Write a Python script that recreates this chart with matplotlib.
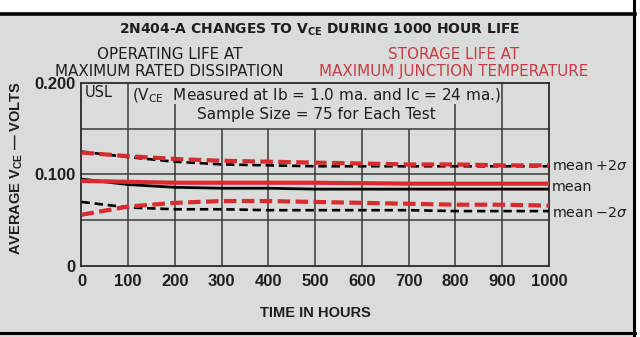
import matplotlib
matplotlib.use("Agg")
import matplotlib.pyplot as plt
from matplotlib.lines import Line2D

plt.rcParams['font.family'] = ['DejaVu Sans']
plt.rcParams['mathtext.fontset'] = 'custom'

# Hours at which the curves are read
hours = [0, 100, 200, 300, 400, 500, 600, 700, 800, 900, 1000]

# Operating life (black) curves, volts
op_upper = [0.125, 0.119, 0.114, 0.111, 0.110, 0.109, 0.109, 0.109, 0.109, 0.109, 0.109]
op_mean = [0.095, 0.089, 0.086, 0.085, 0.085, 0.084, 0.084, 0.084, 0.084, 0.084, 0.084]
op_lower = [0.070, 0.064, 0.062, 0.062, 0.061, 0.061, 0.061, 0.061, 0.060, 0.060, 0.060]

# Storage life (red) curves, volts
st_upper = [0.124, 0.120, 0.117, 0.115, 0.114, 0.113, 0.112, 0.111, 0.111, 0.110, 0.110]
st_mean = [0.093, 0.092, 0.091, 0.091, 0.091, 0.091, 0.0905, 0.090, 0.090, 0.090, 0.090]
st_lower = [0.056, 0.065, 0.069, 0.071, 0.071, 0.070, 0.069, 0.068, 0.067, 0.067, 0.066]

x_ticks = [0, 100, 200, 300, 400, 500, 600, 700, 800, 900, 1000]
y_ticks = [0, 0.100, 0.200]
y_tick_labels = ['0', '0.100', '0.200']
curve_labels = ['mean\u2009+2$\\sigma$', 'mean', 'mean\u2009\u22122$\\sigma$']

BG = '#d9dcdb'
RED = '#d92a2e'
TXT_RED = '#cc3a44'
INK = '#1e1e1e'
BOLD_FONT = ['Liberation Sans', 'DejaVu Sans']

fig = plt.figure(figsize=(6.4, 3.37), dpi=100, facecolor=BG)

# page border
fig.add_artist(plt.Rectangle((0, 0.962), 1, 0.038, transform=fig.transFigure,
                             facecolor='white', edgecolor='none', zorder=0))
fig.add_artist(plt.Rectangle((0.993, 0), 0.007, 1, transform=fig.transFigure,
                             facecolor='white', edgecolor='none', zorder=0))
fig.add_artist(Line2D([0, 0.992], [0.959, 0.959], transform=fig.transFigure,
                      color='black', lw=2.6))
fig.add_artist(Line2D([0.991, 0.991], [0.0, 1.0], transform=fig.transFigure,
                      color='black', lw=2.2))
fig.add_artist(Line2D([0, 0.992], [0.012, 0.012], transform=fig.transFigure,
                      color='black', lw=2.2))

ax = fig.add_axes([0.1273, 0.2107, 0.7305, 0.5430])
ax.set_facecolor(BG)
ax.set_xlim(0, 1000)
ax.set_ylim(0, 0.200)

# grid: full-height verticals where the caption box allows
grid_kw = dict(color='#3a3a3a', lw=1.1, zorder=1)
for h in x_ticks[1:-1]:
    if h in (100, 900):
        top = 0.200
    elif h in (200, 800):
        top = 0.177
    else:
        top = 0.150
    ax.vlines(h, 0, top, **grid_kw)
for v in (0.050, 0.100, 0.150):
    ax.hlines(v, 0, 1000, **grid_kw)

for s in ax.spines.values():
    s.set_color('#2a2a2a')
    s.set_linewidth(1.3)

ax.set_xticks(x_ticks)
ax.set_xticklabels([str(h) for h in x_ticks])
ax.set_yticks(y_ticks)
ax.set_yticklabels(y_tick_labels)
ax.tick_params(length=0, colors=INK)
ax.tick_params(axis='x', pad=6)
ax.tick_params(axis='y', pad=4)
for lab in ax.get_xticklabels() + ax.get_yticklabels():
    lab.set_fontweight('bold')
    lab.set_family(BOLD_FONT)
    lab.set_fontsize(12)

# curves
ax.plot(hours, op_mean, color='black', lw=2.0, zorder=3)
ax.plot(hours, st_mean, color=RED, lw=3.0, zorder=4)
ax.plot(hours, op_upper, color='black', lw=1.9, dashes=(3.2, 1.8), zorder=3)
ax.plot(hours, op_lower, color='black', lw=1.9, dashes=(3.2, 1.8), zorder=3)
ax.plot(hours, st_upper, color=RED, lw=3.0, dashes=(3.0, 1.3), zorder=4)
ax.plot(hours, st_lower, color=RED, lw=3.0, dashes=(3.0, 1.3), zorder=4)

# curve names at the right end
for yv, lab in zip([op_upper[-1], op_mean[-1] + 0.002, op_lower[-1] - 0.002],
                   curve_labels):
    ax.text(1006, yv, lab, ha='left', va='center', fontsize=10.3, color=INK,
            clip_on=False)

# captions inside the plot
ax.text(8, 0.198, 'USL', ha='left', va='top', fontsize=10.5, color=INK)
ax.text(108, 0.196,
        '(V$_{\\mathregular{CE}}$  Measured at Ib = 1.0 ma. and Ic = 24 ma.)',
        ha='left', va='top', fontsize=11, color=INK)
ax.text(503, 0.174, 'Sample Size = 75 for Each Test', ha='center', va='top',
        fontsize=11, color=INK)

# titles
fig.text(0.5, 0.911, '2N404-A CHANGES TO V$_{\\mathregular{CE}}$ DURING 1000 HOUR LIFE',
         ha='center', va='center', fontsize=10, fontweight='bold', color=INK)
fig.text(0.265, 0.837, 'OPERATING LIFE AT', ha='center', va='center',
         fontsize=10.9, color=INK)
fig.text(0.265, 0.789, 'MAXIMUM RATED DISSIPATION', ha='center', va='center',
         fontsize=10.9, color=INK)
fig.text(0.709, 0.837, 'STORAGE LIFE AT', ha='center', va='center',
         fontsize=10.9, color=TXT_RED)
fig.text(0.709, 0.789, 'MAXIMUM JUNCTION TEMPERATURE', ha='center', va='center',
         fontsize=10.9, color=TXT_RED)

ax.set_xlabel('TIME IN HOURS', fontsize=10.5, fontweight='bold', color=INK,
              labelpad=12, family=BOLD_FONT)
fig.text(0.026, 0.50, 'AVERAGE V$_{\\mathregular{CE}}$ \u2014 VOLTS', rotation=90,
         ha='center', va='center', fontsize=10.5, fontweight='bold', color=INK,
         family=BOLD_FONT)

fig.savefig('out.png', dpi=100, facecolor=BG)
